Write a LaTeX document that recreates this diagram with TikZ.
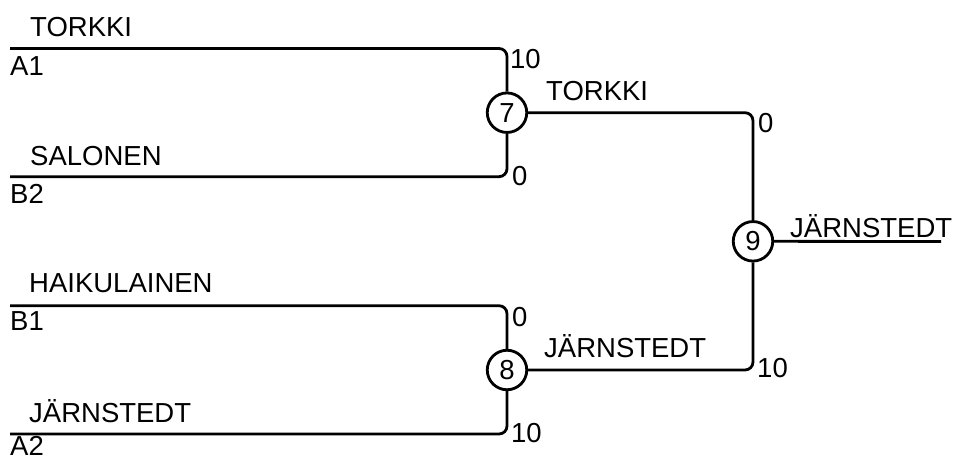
\documentclass[tikz,border=0pt]{standalone}
\usepackage{fontspec}
\setmainfont{Liberation Sans}
\begin{document}
\begin{tikzpicture}[x=1pt,y=-1pt,
  wire/.style={line width=2.8pt,rounded corners=8pt},
  game/.style={circle,draw,line width=2.8pt,minimum size=39.5pt,inner sep=0pt,font=\fontsize{27.5}{33}\selectfont},
  lbl/.style={anchor=base west,inner sep=0pt,font=\fontsize{27.5}{33}\selectfont}]
\useasboundingbox (0,0) rectangle (958,460);
% entry points
\coordinate (a1) at (10,48.5);
\coordinate (b2) at (10,176.7);
\coordinate (b1) at (10,305.7);
\coordinate (a2) at (10,434);
\coordinate (out) at (941,241.5);
% games
\node[game] (c7) at (507,112.7) {7};
\node[game] (c8) at (507,370) {8};
\node[game] (c9) at (753,241.3) {9};
% connectors
\draw[wire] (a1) -| (c7);
\draw[wire] (b2) -| (c7);
\draw[wire] (b1) -| (c8);
\draw[wire] (a2) -| (c8);
\draw[wire] (c7) -| (c9);
\draw[wire] (c8) -| (c9);
\draw[wire] (c9) -- (out);
% team names
\node[lbl] (t1) at (30,37) {TORKKI};
\node[lbl] (t2) at (30,165) {SALONEN};
\node[lbl] (t3) at (29,292) {HAIKULAINEN};
\node[lbl] (t4) at (29,422) {JÄRNSTEDT};
\node[lbl] (s1) at (10,75) {A1};
\node[lbl] (s2) at (10,203) {B2};
\node[lbl] (s3) at (10,330) {B1};
\node[lbl] (s4) at (10,455) {A2};
% scores
\node[lbl] (p1) at (510,68) {10};
\node[lbl] (p2) at (512,185) {0};
\node[lbl] (p3) at (512,326) {0};
\node[lbl] (p4) at (511,442) {10};
\node[lbl] (p5) at (758,132) {0};
\node[lbl] (p6) at (757,377) {10};
% winners
\node[lbl] (w7) at (546,100.5) {TORKKI};
\node[lbl] (w8) at (544,357) {JÄRNSTEDT};
\node[lbl] (w9) at (790,237) {JÄRNSTEDT};
\end{tikzpicture}
\end{document}
